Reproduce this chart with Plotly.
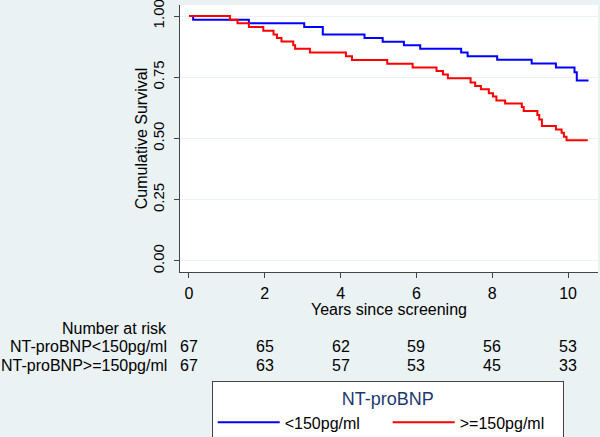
import plotly.graph_objects as go

# Kaplan-Meier step data
low_time = [0, 0.11, 1.58, 3.04, 3.53, 4.63, 5.11, 5.67, 6.10, 7.18, 7.35, 8.13, 9.04, 9.68, 10.17, 10.23, 10.54]
low_surv = [1.0, 0.985, 0.970, 0.955, 0.925, 0.910, 0.895, 0.881, 0.866, 0.851, 0.836, 0.821, 0.806, 0.790, 0.770, 0.737, 0.737]

high_time = [0, 1.08, 1.28, 1.58, 1.96, 2.23, 2.32, 2.44, 2.75, 2.80, 3.19, 4.14, 4.30, 5.23, 5.90,
             6.53, 6.70, 6.83, 7.43, 7.55, 7.70, 7.91, 8.02, 8.11, 8.34, 8.78, 8.83, 9.19, 9.24, 9.31,
             9.68, 9.83, 9.89, 9.96, 10.52]
high_surv = [1.0, 0.985, 0.970, 0.955, 0.940, 0.925, 0.910, 0.896, 0.881, 0.866, 0.851, 0.836, 0.820, 0.805, 0.790,
             0.776, 0.761, 0.746, 0.729, 0.714, 0.701, 0.685, 0.671, 0.655, 0.643, 0.629, 0.612, 0.596, 0.578, 0.551,
             0.537, 0.523, 0.507, 0.493, 0.493]

risk_times = [0, 2, 4, 6, 8, 10]
risk_low = [67, 65, 62, 59, 56, 53]
risk_high = [67, 63, 57, 53, 45, 33]
risk_labels = ["NT-proBNP<150pg/ml", "NT-proBNP>=150pg/ml"]

x_ticks = [0, 2, 4, 6, 8, 10]
y_ticks = [0, 0.25, 0.5, 0.75, 1.0]
y_ticktext = ["0.00", "0.25", "0.50", "0.75", "1.00"]

FONT = "Liberation Sans, Arial, sans-serif"
BG = "#eaf2f3"

fig = go.Figure()
fig.add_trace(go.Scatter(x=low_time, y=low_surv, mode="lines", line_shape="hv",
                         line=dict(color="#0000ff", width=2), name="<150pg/ml"))
fig.add_trace(go.Scatter(x=high_time, y=high_surv, mode="lines", line_shape="hv",
                         line=dict(color="#ff0000", width=2), name=">=150pg/ml"))

PLOT_LEFT, PLOT_RIGHT = 180, 598
PLOT_TOP, PLOT_BOTTOM = 5, 272
W = PLOT_RIGHT - PLOT_LEFT
H = PLOT_BOTTOM - PLOT_TOP


def px(p):
    return (p - PLOT_LEFT) / W


def py(p):
    return (PLOT_BOTTOM - p) / H


annotations = []
annotations.append(dict(text="Years since screening", xref="paper", yref="paper", x=px(389), y=py(309),
                        xanchor="center", yanchor="middle", showarrow=False))
annotations.append(dict(text="Cumulative Survival", xref="paper", yref="paper", x=px(141.7), y=0.5,
                        xanchor="center", yanchor="middle", textangle=-90, showarrow=False))
annotations.append(dict(text="Number at risk", xref="paper", yref="paper", x=px(168.5), y=py(328.3),
                        xanchor="right", yanchor="middle", showarrow=False))
for lab, row, yp in zip(risk_labels, [risk_low, risk_high], [346.7, 365.0]):
    annotations.append(dict(text=lab, xref="paper", yref="paper", x=px(168.5), y=py(yp),
                            xanchor="right", yanchor="middle", showarrow=False))
    for t, n in zip(risk_times, row):
        annotations.append(dict(text=str(n), xref="x", yref="paper", x=t, y=py(yp),
                                xanchor="center", yanchor="middle", showarrow=False))

fig.update_layout(
    width=600, height=437,
    margin=dict(l=PLOT_LEFT, r=600 - PLOT_RIGHT, t=PLOT_TOP, b=437 - PLOT_BOTTOM, pad=0, autoexpand=False),
    paper_bgcolor=BG, plot_bgcolor="white",
    font=dict(family=FONT, size=16, color="#000000"),
    annotations=annotations,
    showlegend=True,
    legend=dict(orientation="h", x=px(211.7), y=py(381), xanchor="left", yanchor="top",
                bgcolor="white", bordercolor="#444444", borderwidth=1,
                title=dict(text="NT-proBNP", side="top center", font=dict(size=18, color="#1a3a6e")),
                font=dict(size=16), itemwidth=62, entrywidth=98, entrywidthmode="pixels",
                tracegroupgap=0),
    xaxis=dict(range=[-0.237, 10.79], tickvals=x_ticks, ticks="outside", ticklen=5, tickcolor="#444444",
               showline=True, linecolor="#444444", linewidth=1, showgrid=False, zeroline=False,
               ticklabelstandoff=2, tickfont=dict(size=16), automargin=False),
    yaxis=dict(range=[-0.045, 1.045], tickvals=y_ticks, ticktext=y_ticktext, ticks="outside", ticklen=5,
               tickcolor="#444444", tickangle=-90, showline=True, linecolor="#444444", linewidth=1,
               showgrid=True, gridcolor=BG, gridwidth=1, zeroline=False, tickfont=dict(size=15),
               ticklabelstandoff=4, ticklabeloverflow="allow", automargin=False),
)

fig.write_html("out.html", config={"displayModeBar": False},
               post_script="document.body.style.margin='0';document.body.style.padding='0';")
